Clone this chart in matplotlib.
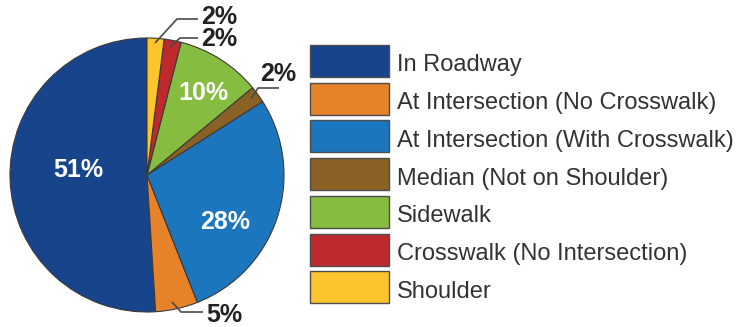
import numpy as np
import matplotlib
matplotlib.use("Agg")
import matplotlib.pyplot as plt
from matplotlib.patches import Rectangle

categories = [
    "In Roadway",
    "At Intersection (No Crosswalk)",
    "At Intersection (With Crosswalk)",
    "Median (Not on Shoulder)",
    "Sidewalk",
    "Crosswalk (No Intersection)",
    "Shoulder",
]
shares = [51, 5, 28, 2, 10, 2, 2]
colors = ["#17448A", "#E5822A", "#1C76BD", "#8A6226", "#86BC40", "#BE292E", "#FDC42E"]

W, H = 736, 327
fig = plt.figure(figsize=(W / 100, H / 100), dpi=100)
ax = fig.add_axes([0, 0, 1, 1])

cx, cy, R = 147, H - 175, 137
wedges, _ = ax.pie(shares, colors=colors, startangle=90, counterclock=True,
                   center=(cx, cy), radius=R,
                   wedgeprops=dict(edgecolor="#3a3a3a", linewidth=0.8))
ax.set_xlim(0, W)
ax.set_ylim(0, H)
ax.set_aspect("equal")
ax.axis("off")

bold = dict(family="Liberation Sans", fontweight="bold", fontsize=18)

# labels inside the larger wedges
inside = {0: (78, 170), 2: (225, 222), 4: (203, 93)}
for i, (x, y) in inside.items():
    ax.text(x, H - y, f"{shares[i]}%", color="white", ha="center", va="center", **bold)

# labels with leader lines for the thin wedges: (start, elbow, end, text pos)
outside = {
    6: ((155, 43), (177, 19), (198, 19), (201, 17)),
    5: ((170, 47), (180, 38), (198, 38), (201, 39)),
    3: ((251, 99), (258, 88), (279, 88), (260, 74)),
    1: ((172, 302), (181, 312), (203, 312), (206, 315)),
}
for i, (p0, p1, p2, pt) in outside.items():
    xs = [p0[0], p1[0], p2[0]]
    ys = [H - p0[1], H - p1[1], H - p2[1]]
    ax.plot(xs, ys, color="#4a4a4a", linewidth=1.2, solid_capstyle="butt")
    ax.text(pt[0], H - pt[1], f"{shares[i]}%", color="#222222", ha="left", va="center", **bold)

# legend
lx, ly0, bw, bh, pitch = 310, 45, 79, 32, 37.7
for k, (name, col) in enumerate(zip(categories, colors)):
    top = ly0 + k * pitch
    ax.add_patch(Rectangle((lx, H - top - bh), bw, bh, facecolor=col,
                           edgecolor="#4d4d4d", linewidth=1.0))
    ax.text(lx + bw + 8, H - top - 26.5, name, color="#333333",
            family="Liberation Sans", fontsize=17, ha="left", va="baseline")

fig.savefig("out.png", dpi=100)
